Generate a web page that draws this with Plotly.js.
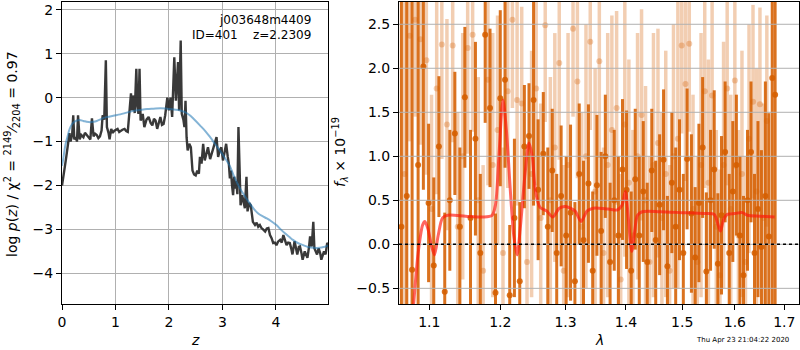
<!DOCTYPE html>
<html><head><meta charset="utf-8">
<script src="https://cdn.plot.ly/plotly-3.0.1.min.js"></script>
<style>html,body{margin:0;padding:0;background:#fff}#plot{width:800px;height:350px}</style>
</head><body><div id="plot"></div>
<script>
// ---- left panel: log p(z) ----
const pzZ = [0.00,0.02,0.05,0.08,0.11,0.14,0.16,0.19,0.21,0.23,0.26,0.28,0.30,0.33,0.36,0.40,0.43,0.46,0.50,0.53,0.56,0.59,0.62,0.65,0.68,0.71,0.74,0.76,0.79,0.81,0.82,0.83,0.84,0.87,0.89,0.92,0.95,0.98,1.01,1.04,1.07,1.10,1.13,1.17,1.20,1.23,1.26,1.29,1.31,1.34,1.36,1.39,1.41,1.43,1.45,1.47,1.51,1.54,1.58,1.62,1.66,1.69,1.72,1.75,1.78,1.81,1.84,1.87,1.90,1.93,1.97,2.00,2.03,2.06,2.10,2.13,2.17,2.19,2.22,2.24,2.27,2.29,2.31,2.33,2.35,2.38,2.41,2.44,2.47,2.50,2.53,2.56,2.58,2.61,2.64,2.67,2.70,2.73,2.77,2.80,2.83,2.86,2.89,2.92,2.95,2.98,3.01,3.04,3.07,3.10,3.12,3.14,3.16,3.18,3.20,3.22,3.24,3.26,3.28,3.30,3.32,3.34,3.37,3.42,3.45,3.47,3.50,3.53,3.57,3.61,3.64,3.67,3.70,3.73,3.76,3.80,3.83,3.86,3.89,3.92,3.95,3.98,4.01,4.04,4.08,4.11,4.14,4.17,4.20,4.23,4.26,4.29,4.31,4.35,4.38,4.40,4.43,4.45,4.48,4.50,4.54,4.57,4.59,4.62,4.64,4.67,4.70,4.72,4.75,4.77,4.80,4.83,4.85,4.88,4.90,4.93,4.96,4.98];
const pzLogP = [-2.00,-1.80,-1.60,-1.35,-1.10,-0.81,-1.00,-0.85,-0.40,-0.95,-0.90,-1.00,-0.40,-0.95,-0.85,-0.90,-0.80,-0.85,-0.90,-0.95,-0.47,-0.88,-0.82,-0.85,-0.92,-0.88,-0.75,-0.40,-0.50,0.20,0.85,0.10,-0.67,-0.80,-0.95,-0.71,-0.80,-0.75,-0.72,-0.71,-0.78,-0.75,-0.73,-0.71,-0.76,-0.78,-0.21,0.10,-0.29,0.05,-0.35,0.66,-0.20,-0.37,0.66,-0.52,-0.37,-0.67,-0.50,-0.44,-0.58,-0.63,-0.48,-0.52,-0.71,-0.55,-0.44,-0.62,-0.60,-0.40,0.00,-0.29,0.00,-0.44,0.92,-0.07,0.81,-0.29,1.30,-0.37,-0.50,-0.67,-0.07,-0.90,-1.20,-1.05,-1.13,-1.66,-1.75,-1.77,-1.66,-1.73,-1.35,-1.50,-1.05,-1.43,-1.25,-1.13,-1.40,-1.28,-1.15,-1.05,-0.90,-1.35,-1.20,-1.13,-1.43,-1.25,-1.05,-1.35,-1.50,-1.84,-1.66,-2.00,-2.22,-1.80,-2.07,-1.90,-2.20,-0.67,-1.90,-2.45,-2.22,-2.52,-1.80,-2.59,-2.40,-2.45,-2.83,-2.90,-2.85,-2.94,-2.90,-2.97,-3.00,-3.05,-2.98,-2.97,-3.13,-3.20,-3.31,-3.30,-3.36,-3.28,-3.24,-3.30,-3.13,-3.25,-3.36,-3.30,-3.31,-3.45,-3.57,-3.27,-3.45,-3.57,-3.40,-3.39,-3.55,-3.69,-3.50,-3.60,-3.65,-3.40,-3.16,-3.39,-2.83,-3.43,-3.50,-3.57,-3.43,-3.55,-3.69,-3.54,-3.50,-3.57,-3.31,-3.35];
const pzSmoothZ = [0.00,0.02,0.06,0.10,0.14,0.19,0.23,0.28,0.33,0.40,0.46,0.53,0.59,0.65,0.71,0.78,0.84,0.96,1.09,1.21,1.34,1.46,1.59,1.71,1.84,1.96,2.09,2.21,2.30,2.39,2.46,2.58,2.68,2.77,2.86,2.95,3.05,3.14,3.22,3.33,3.45,3.58,3.67,3.75,3.83,3.92,4.01,4.09,4.17,4.25,4.32,4.41,4.51,4.60,4.70,4.82,4.90,4.98];
const pzSmoothLogP = [-1.55,-1.42,-1.10,-0.90,-0.72,-0.60,-0.55,-0.52,-0.51,-0.53,-0.55,-0.56,-0.55,-0.53,-0.50,-0.46,-0.44,-0.41,-0.38,-0.34,-0.30,-0.28,-0.26,-0.25,-0.24,-0.25,-0.27,-0.29,-0.33,-0.40,-0.48,-0.63,-0.76,-0.90,-1.05,-1.20,-1.38,-1.56,-1.80,-2.07,-2.30,-2.52,-2.64,-2.70,-2.75,-2.82,-2.90,-3.00,-3.09,-3.17,-3.24,-3.31,-3.36,-3.40,-3.42,-3.42,-3.40,-3.37];
const pzXTicks = [0,1,2,3,4];
const pzYTicks = [-4,-3,-2,-1,0,1,2];

// ---- right panel: spectrum (f_lambda x 1e-19) ----
const specWaveA = [1.063,1.070,1.077,1.085,1.092,1.099,1.106,1.113,1.121,1.128,
  1.135,1.142,1.149,1.157,1.164,1.171,1.178,1.185,1.193,1.200,
  1.207,1.214,1.221,1.229,1.236,1.243,1.250,1.257,1.265,1.272,
  1.279,1.286,1.293,1.301,1.308,1.315,1.322,1.329,1.337,1.344,
  1.351,1.358,1.365,1.373,1.380,1.387,1.394,1.401,1.409,1.416,
  1.423,1.430,1.437,1.445,1.452,1.459,1.466,1.473,1.481,1.488,
  1.495,1.502,1.509,1.517,1.524,1.531,1.538,1.545,1.553,1.560,
  1.567,1.574,1.581,1.589,1.596,1.603,1.610,1.617,1.625,1.632,
  1.639,1.646,1.653,1.661,1.668,1.675,1.681];
const specFluxA = [0.20,0.55,-0.29,0.90,2.02,0.47,-0.24,1.11,-0.54,0.50,
  1.26,0.20,1.67,0.30,1.20,-0.10,2.38,1.55,-0.55,1.66,
  1.87,-0.58,0.30,-0.42,1.11,1.23,1.64,0.62,1.03,0.20,
  0.84,-0.10,0.55,0.10,0.36,-0.42,0.80,0.05,0.69,-0.30,
  0.67,0.15,1.00,-0.20,0.50,0.10,0.85,0.62,-0.30,0.74,
  0.10,0.60,-0.20,0.84,0.05,0.45,0.96,-0.25,0.70,0.20,
  0.62,-0.10,0.97,0.35,-0.15,0.47,1.10,-0.31,0.50,0.85,
  -0.22,0.33,1.05,-0.10,0.60,0.90,0.10,-0.35,0.50,1.05,
  -0.10,0.40,-0.03,0.55,0.09,1.89,1.70];
const specErrA = [3.5,3.0,3.2,2.6,1.4,0.9,1.0,0.8,0.9,0.8,
  0.7,0.9,0.8,1.0,1.1,0.9,1.0,0.9,0.9,1.0,
  1.0,0.8,0.9,0.9,0.7,0.6,1.2,0.8,0.7,0.9,
  0.7,0.9,0.8,0.9,1.0,0.9,0.8,0.9,0.9,0.9,
  0.8,0.9,0.7,0.9,0.8,0.9,0.8,0.9,0.9,0.8,
  0.9,0.8,0.9,0.7,0.9,0.8,0.8,0.8,0.8,0.9,
  0.8,0.9,0.8,0.9,0.8,0.9,0.8,0.9,0.8,0.9,
  0.8,0.9,0.8,0.9,0.8,0.8,0.9,0.9,0.8,0.8,
  0.9,1.0,1.1,1.3,1.4,3.0,3.0];
const specWaveB = [1.067,1.074,1.081,1.088,1.096,1.103,1.110,1.117,1.124,1.132,
  1.139,1.146,1.153,1.160,1.168,1.175,1.182,1.189,1.196,1.204,
  1.211,1.218,1.225,1.232,1.240,1.247,1.254,1.261,1.268,1.276,
  1.283,1.290,1.297,1.304,1.312,1.319,1.326,1.333,1.340,1.348,
  1.355,1.362,1.369,1.376,1.384,1.391,1.398,1.405,1.412,1.420,
  1.427,1.434,1.441,1.448,1.456,1.463,1.470,1.477,1.484,1.492,
  1.499,1.506,1.513,1.520,1.528,1.535,1.542,1.549,1.556,1.564,
  1.571,1.578,1.585,1.592,1.600,1.607,1.614,1.621,1.628,1.636,
  1.643,1.650,1.657,1.664];
const specFluxB = [0.80,2.37,2.55,2.33,2.09,0.40,1.77,2.27,1.36,2.26,
  0.20,1.00,2.23,2.38,0.50,-0.30,1.87,0.90,1.30,-0.10,
  1.74,2.55,1.64,1.60,-0.20,0.80,1.77,0.30,2.49,0.50,
  1.10,2.06,-0.30,0.90,2.45,1.85,0.20,1.00,2.30,0.60,
  2.08,-0.10,0.90,1.30,1.55,-0.40,1.36,0.70,0.10,1.00,
  1.47,0.50,-0.20,0.90,1.15,0.30,0.80,-0.30,1.00,1.20,
  2.26,1.82,2.28,0.40,-0.20,0.90,1.74,0.70,1.69,0.20,
  -0.35,0.90,1.77,0.40,1.86,0.10,0.80,-0.20,1.20,1.62,
  0.60,1.59,0.30,1.40];
const specErrB = [2.2,1.2,1.1,1.2,1.3,1.3,1.2,1.3,1.2,1.1,
  1.3,1.4,1.2,1.1,1.4,1.2,1.2,1.5,1.3,1.2,
  1.1,1.0,1.2,1.1,1.2,1.4,1.1,1.3,1.1,1.4,
  1.3,1.1,1.2,1.5,1.0,1.1,1.3,1.5,1.0,1.4,
  1.1,1.2,1.5,1.3,1.1,1.2,1.5,1.4,1.2,1.4,
  1.2,1.3,1.2,1.5,1.3,1.2,1.4,1.2,1.5,1.7,
  1.0,1.1,1.0,1.3,1.2,1.5,1.1,1.4,1.3,1.1,
  1.2,1.4,1.1,1.3,1.0,1.2,1.4,1.2,1.3,1.1,
  1.4,1.1,1.3,1.2];
const modelWave = [1.074,1.079,1.085,1.091,1.094,1.098,1.103,1.107,1.112,1.118,1.125,1.150,1.175,1.188,1.193,1.198,1.204,1.209,1.215,1.220,1.225,1.230,1.237,1.243,1.248,1.253,1.260,1.270,1.280,1.290,1.300,1.315,1.325,1.335,1.345,1.370,1.385,1.393,1.399,1.404,1.410,1.415,1.420,1.428,1.460,1.500,1.540,1.560,1.566,1.572,1.578,1.585,1.600,1.615,1.625,1.650,1.680];
const modelFlux = [-1.20,-0.68,-0.10,0.22,0.26,0.18,-0.02,-0.12,0.10,0.30,0.33,0.32,0.31,0.33,0.45,1.00,1.64,1.30,0.60,0.10,-0.12,0.20,0.80,1.15,1.00,0.60,0.42,0.38,0.31,0.41,0.43,0.38,0.26,0.38,0.41,0.40,0.39,0.44,0.60,0.30,-0.08,0.15,0.33,0.37,0.37,0.36,0.35,0.34,0.25,0.15,0.28,0.34,0.35,0.36,0.33,0.32,0.31];
const specXTicks = [1.1,1.2,1.3,1.4,1.5,1.6,1.7];
const specXTickText = ['1.1','1.2','1.3','1.4','1.5','1.6','1.7'];
const specYTicks = [-0.5,0.0,0.5,1.0,1.5,2.0,2.5];

const FONT = 'DejaVu Sans';
const GRID = '#b0b0b0';
const G141 = 'rgba(213,94,0,0.88)';
const G141L = 'rgba(213,94,0,0.3)';

const traces = [
  {x: pzZ, y: pzLogP, type:'scatter', mode:'lines', xaxis:'x', yaxis:'y',
   line:{color:'rgba(40,40,40,0.92)', width:2.4}, hoverinfo:'skip'},
  {x: pzSmoothZ, y: pzSmoothLogP, type:'scatter', mode:'lines', xaxis:'x', yaxis:'y',
   line:{color:'rgba(31,119,180,0.55)', width:2, shape:'spline'}, hoverinfo:'skip'},
  {x: specWaveB, y: specFluxB, type:'scatter', mode:'markers', xaxis:'x2', yaxis:'y2',
   marker:{color:G141L, size:6},
   error_y:{type:'data', array:specErrB, visible:true, color:G141L, thickness:3.5, width:0}},
  {x: specWaveA, y: specFluxA, type:'scatter', mode:'markers', xaxis:'x2', yaxis:'y2',
   marker:{color:G141, size:6},
   error_y:{type:'data', array:specErrA, visible:true, color:G141, thickness:3, width:0}},
  {x: modelWave, y: modelFlux, type:'scatter', mode:'lines', xaxis:'x2', yaxis:'y2',
   line:{color:'rgba(255,20,10,0.65)', width:3, shape:'spline', smoothing:0.8}}
];

const shapes = [];
specYTicks.forEach(t => shapes.push({type:'line', xref:'x2 domain', x0:0, x1:1, yref:'y2', y0:t, y1:t,
  layer:'above', line:{color:GRID, width:1}}));
specXTicks.forEach(t => shapes.push({type:'line', xref:'x2', x0:Math.log10(t), x1:Math.log10(t), yref:'y2 domain', y0:0, y1:1,
  layer:'above', line:{color:GRID, width:1}}));
shapes.push({type:'line', xref:'x2 domain', x0:0, x1:1, yref:'y2', y0:0, y1:0, layer:'above',
  line:{color:'black', width:1.6, dash:'dot'}});

const W = 737, H = 302, L = 62, T = 2;
const px = v => (v - L) / W;
const py = v => (T + H - v) / H;

const axBase = {showline:true, linecolor:'black', linewidth:1, mirror:true, ticks:'outside', ticklen:5,
  tickwidth:1, tickcolor:'black', zeroline:false, tickfont:{family:FONT, size:14, color:'black'}};

const layout = {
  width:800, height:350, margin:{l:L, r:1, t:T, b:46}, paper_bgcolor:'white', plot_bgcolor:'white',
  showlegend:false, font:{family:FONT, size:14, color:'black'},
  xaxis: Object.assign({}, axBase, {domain:[0, 0.3613], range:[0, 4.98], anchor:'y', tickmode:'array', tickvals:pzXTicks,
    showgrid:true, gridcolor:GRID, gridwidth:1}),
  yaxis: Object.assign({}, axBase, {domain:[0,1], range:[-4.70, 2.18], anchor:'x', tickmode:'array', tickvals:pzYTicks,
    showgrid:true, gridcolor:GRID, gridwidth:1}),
  xaxis2: Object.assign({}, axBase, {type:'log', domain:[0.4573, 1], range:[0.02526, 0.23828], anchor:'y2',
    tickmode:'array', tickvals:specXTicks, ticktext:specXTickText, showgrid:false}),
  yaxis2: Object.assign({}, axBase, {domain:[0,1], range:[-0.678, 2.753], anchor:'x2', tickmode:'array',
    tickvals:specYTicks, tickformat:'.1f', showgrid:false}),
  shapes: shapes,
  annotations: [
    {xref:'paper', yref:'paper', x:px(313), y:py(20), xanchor:'right', yanchor:'middle', showarrow:false,
     text:'j003648m4409', font:{family:FONT, size:12}},
    {xref:'paper', yref:'paper', x:px(313), y:py(34.5), xanchor:'right', yanchor:'middle', showarrow:false,
     text:'ID=401    z=2.2309', font:{family:FONT, size:12}},
    {xref:'paper', yref:'paper', x:px(195), y:py(340), xanchor:'center', yanchor:'middle', showarrow:false,
     text:'<i>z</i>', font:{family:FONT, size:14}},
    {xref:'paper', yref:'paper', x:px(599), y:py(340), xanchor:'center', yanchor:'middle', showarrow:false,
     text:'<i>λ</i>', font:{family:FONT, size:14}},
    {xref:'paper', yref:'paper', x:px(12), y:py(154), xanchor:'center', yanchor:'middle', showarrow:false, textangle:-90,
     text:'log <i>p</i>(<i>z</i>) / χ<sup>2</sup> = <sup>2149</sup>⁄<sub>2204</sub> = 0.97', font:{family:FONT, size:14}},
    {xref:'paper', yref:'paper', x:px(340), y:py(152), xanchor:'center', yanchor:'middle', showarrow:false, textangle:-90,
     text:'<i>f</i><sub><i>λ</i></sub> × 10<sup>−19</sup>', font:{family:FONT, size:14}},
    {xref:'paper', yref:'paper', x:px(742), y:py(340), xanchor:'center', yanchor:'middle', showarrow:false,
     text:'Thu Apr 23 21:04:22 2020', font:{family:FONT, size:7}}
  ]
};

Plotly.newPlot('plot', traces, layout, {staticPlot:true, displayModeBar:false});
</script>
</body></html>
